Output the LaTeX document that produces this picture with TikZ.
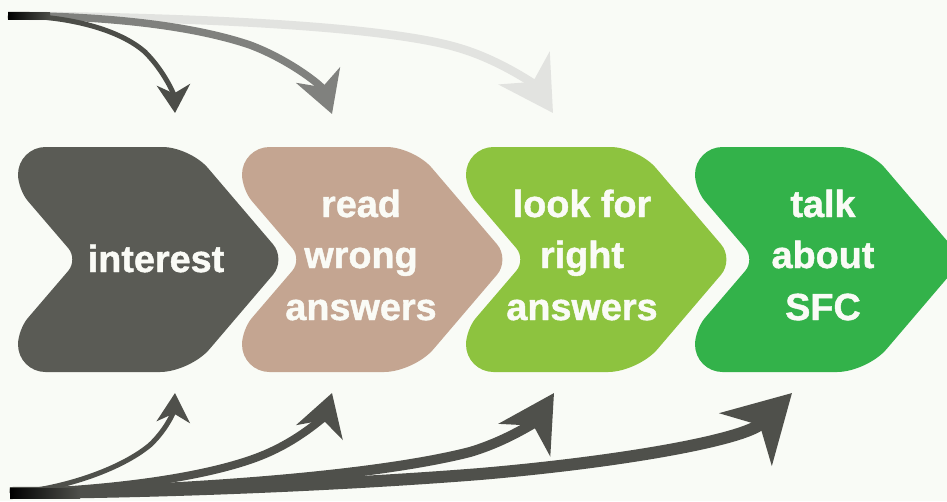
\documentclass[tikz,border=0pt]{standalone}
\usepackage{fontspec}
\setmainfont{Liberation Sans}[BoldFeatures={FakeBold=1.2}]
\usetikzlibrary{arrows.meta}
\definecolor{bgcol}{RGB}{249,251,246}
\definecolor{chA}{RGB}{90,91,85}
\definecolor{chB}{RGB}{196,165,145}
\definecolor{chC}{RGB}{141,195,63}
\definecolor{chD}{RGB}{51,178,74}
\definecolor{txtcol}{RGB}{250,251,246}
\definecolor{tA}{RGB}{76,77,72}
\definecolor{tB}{RGB}{128,129,126}
\definecolor{tC}{RGB}{226,227,224}
\definecolor{bcol}{RGB}{79,80,75}
\newcommand{\chevshape}[2]{%
  \fill[#2] (#1+60,259.5) [rounded corners=3mm] -- (#1,189.5) [rounded corners=5.5mm] -- (#1,147) -- (#1+172,147) [rounded corners=4mm] -- (#1+268,259.5) [rounded corners=6mm] -- (#1+172,372) [rounded corners=5.5mm] -- (#1,372) [rounded corners=3mm] -- (#1,329.5) -- cycle;}
\begin{document}
\begin{tikzpicture}[x=0.2mm,y=-0.2mm,
  lbl/.style={text=txtcol, font=\fontsize{21.5}{25}\selectfont\bfseries, anchor=base, inner sep=0pt},
  arr/.style={line cap=butt}]
\useasboundingbox (0,0) rectangle (947,501);
\fill[bgcol] (0,0) rectangle (947,501);
% chevrons
\chevshape{18}{chA}
\chevshape{242}{chB}
\chevshape{466}{chC}
\chevshape{695}{chD}
% labels
\node[lbl] (l1) at (156,272) {interest};
\node[lbl] (l2a) at (361,217) {read};
\node[lbl] (l2b) at (361,268) {wrong};
\node[lbl] (l2c) at (361,320) {answers};
\node[lbl] (l3a) at (582,217) {look for};
\node[lbl] (l3b) at (582,268) {right};
\node[lbl] (l3c) at (582,320) {answers};
\node[lbl] (l4a) at (823,217) {talk};
\node[lbl] (l4b) at (823,268) {about};
\node[lbl] (l4c) at (823,320) {SFC};
% top arrows
\coordinate (ts) at (8,15.5);
\coordinate (t1) at (175,113);
\coordinate (t2) at (332,114);
\coordinate (t3) at (553,113);
\draw[arr, tC, line width=1.7mm, -{Stealth[length=10.6mm,width=12mm,inset=3.2mm]}]
  (ts) .. controls (250,18) and (400,30) .. (459,48) .. controls (500,60) and (535,85) .. (t3);
\draw[arr, tB, line width=1.5mm, -{Stealth[length=8.2mm,width=9.2mm,inset=2.5mm]}]
  (ts) .. controls (120,16) and (200,28) .. (250,45) .. controls (290,60) and (322,86) .. (t2);
\draw[arr, tA, line width=1mm, -{Stealth[length=5.6mm,width=6.6mm,inset=1.7mm]}]
  (ts) .. controls (70,15.5) and (120,30) .. (145,52) .. controls (165,72) and (174,95) .. (t1);
\shade[left color=black, right color=tA] (8,12) rectangle (50,19);
% bottom arrows
\coordinate (bs) at (10,493);
\coordinate (b1) at (175,393);
\coordinate (b2) at (332,393);
\coordinate (b3) at (554,393);
\coordinate (b4) at (792,393);
\draw[arr, bcol, line width=2.4mm, -{Stealth[length=13mm,width=14.6mm,inset=3.9mm]}]
  (bs) .. controls (200,492) and (380,482) .. (480,474) .. controls (620,462) and (745,440) .. (b4);
\draw[arr, bcol, line width=2mm, -{Stealth[length=11mm,width=12mm,inset=3.3mm]}]
  (bs) .. controls (200,490) and (380,475) .. (470,452) .. controls (510,440) and (537,420) .. (b3);
\draw[arr, bcol, line width=1.6mm, -{Stealth[length=8.2mm,width=9.6mm,inset=2.5mm]}]
  (bs) .. controls (120,490) and (220,475) .. (270,452) .. controls (305,436) and (325,415) .. (b2);
\draw[arr, bcol, line width=1mm, -{Stealth[length=5.8mm,width=6.6mm,inset=1.7mm]}]
  (bs) .. controls (60,490) and (120,470) .. (150,445) .. controls (168,428) and (174,410) .. (b1);
\shade[left color=black, right color=bcol] (10,488) rectangle (80,498);
\end{tikzpicture}
\end{document}
